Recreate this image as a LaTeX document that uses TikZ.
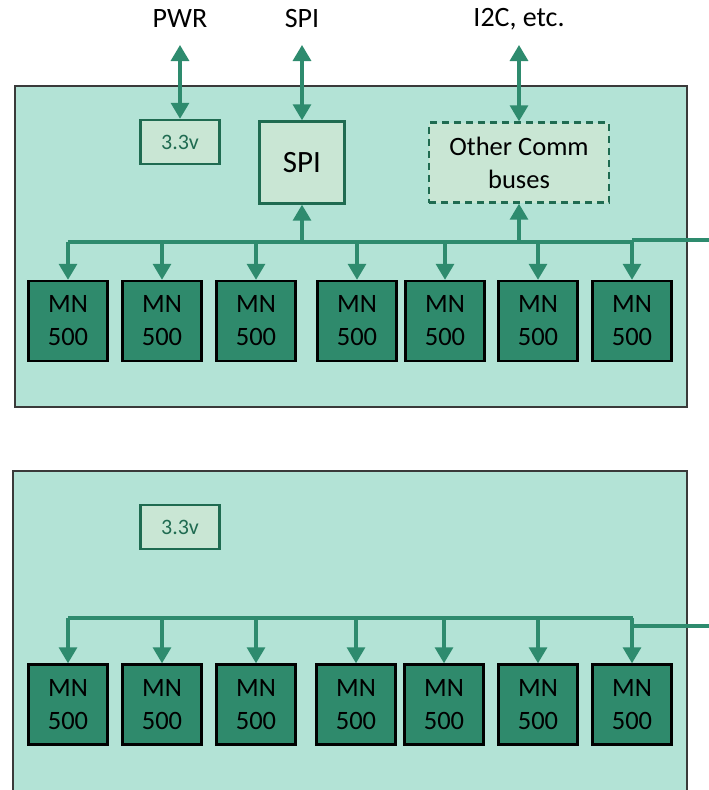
\documentclass[tikz,border=0pt]{standalone}
\usepackage{fontspec}
\setmainfont{Carlito}
\usetikzlibrary{arrows.meta}
\definecolor{panelfill}{HTML}{B3E3D6}
\definecolor{panelline}{HTML}{3A3A3A}
\definecolor{mnfill}{HTML}{2F8A6C}
\definecolor{boxfill}{HTML}{C9E6D4}
\definecolor{boxline}{HTML}{1F6B51}
\definecolor{wirecol}{HTML}{2E8B6E}
\tikzset{
  panel/.style={draw=panelline, line width=1.2pt, fill=panelfill},
  mnbox/.style={draw=black, line width=2.4pt, fill=mnfill, minimum width=79pt, minimum height=80pt,
    inner sep=0pt, align=center, font=\fontsize{26.5}{33}\selectfont},
  vbox/.style={draw=boxline, line width=2.4pt, fill=boxfill, minimum width=79pt, minimum height=44pt,
    inner sep=0pt, text=boxline, font=\fontsize{22}{24}\selectfont},
  spibox/.style={draw=boxline, line width=2.4pt, fill=boxfill, minimum width=85pt, minimum height=82pt,
    inner sep=0pt, font=\fontsize{31}{33}\selectfont},
  combox/.style={draw=boxline, line width=2.4pt, dashed, dash pattern=on 7pt off 5pt, fill=boxfill,
    minimum width=180pt, minimum height=80pt, inner sep=0pt, align=center, font=\fontsize{26.5}{33}\selectfont},
  extlabel/.style={font=\fontsize{28}{30}\selectfont},
  wire/.style={draw=wirecol, line width=3.2pt},
  arr/.style={wire, -{Triangle[width=18pt,length=16pt]}},
  biarr/.style={wire, {Triangle[width=18pt,length=16pt]}-{Triangle[width=18pt,length=16pt]}},
}
\begin{document}
\begin{tikzpicture}[x=1pt, y=-1pt]
\useasboundingbox (0,0) rectangle (709,790);
\clip (0,0) rectangle (709,790);

% ---------- upper board ----------
\draw[panel] (15,86) rectangle (687,407);

\node[extlabel] (pwr) at (180,19) {PWR};
\node[extlabel] (spilbl) at (302,19) {SPI};
\node[extlabel] (i2c) at (519,19) {I2C, etc.};

\node[vbox] (vA) at (180,142) {3.3v};
\node[spibox] (spi) at (302,162.5) {SPI};
\node[combox] (com) at (519,162.5) {Other Comm\\buses};

\foreach \i/\x in {1/68,2/162,3/256,4/357,5/445,6/538,7/632}
  \node[mnbox] (mnA\i) at (\x,321) {MN\\500};

\coordinate (pwrA) at (180,45);
\coordinate (spiA) at (302,45);
\coordinate (i2cA) at (519,45);
\draw[biarr] (pwrA) -- (vA.north);
\draw[biarr] (spiA) -- (spi.north);
\draw[biarr] (i2cA) -- (com.north);

\coordinate (busAL) at (68,242);
\coordinate (busAR) at (632,242);
\coordinate (feedA) at (712,240);
\draw[wire] (busAL) -- (busAR);
\draw[wire] (feedA) -- (mnA7.north |- feedA);
\foreach \i in {1,...,7}
  \draw[arr] (mnA\i.north |- busAL) -- (mnA\i.north);
\draw[arr] (spi.south |- busAL) -- (spi.south);
\draw[arr] (com.south |- busAL) -- (com.south);

% ---------- lower board ----------
\draw[panel] (13,471) rectangle (687,800);

\node[vbox] (vB) at (180,527) {3.3v};

\foreach \i/\x in {1/68,2/162,3/256,4/356,5/444,6/538,7/632}
  \node[mnbox] (mnB\i) at (\x,704.5) {MN\\500};

\coordinate (busBL) at (68,618);
\coordinate (busBR) at (633,618);
\coordinate (feedB) at (712,626);
\draw[wire] (busBL) -- (busBR);
\draw[wire] (feedB) -- (mnB7.north |- feedB);
\foreach \i in {1,...,7}
  \draw[arr] (mnB\i.north |- busBL) -- (mnB\i.north);
\end{tikzpicture}
\end{document}
